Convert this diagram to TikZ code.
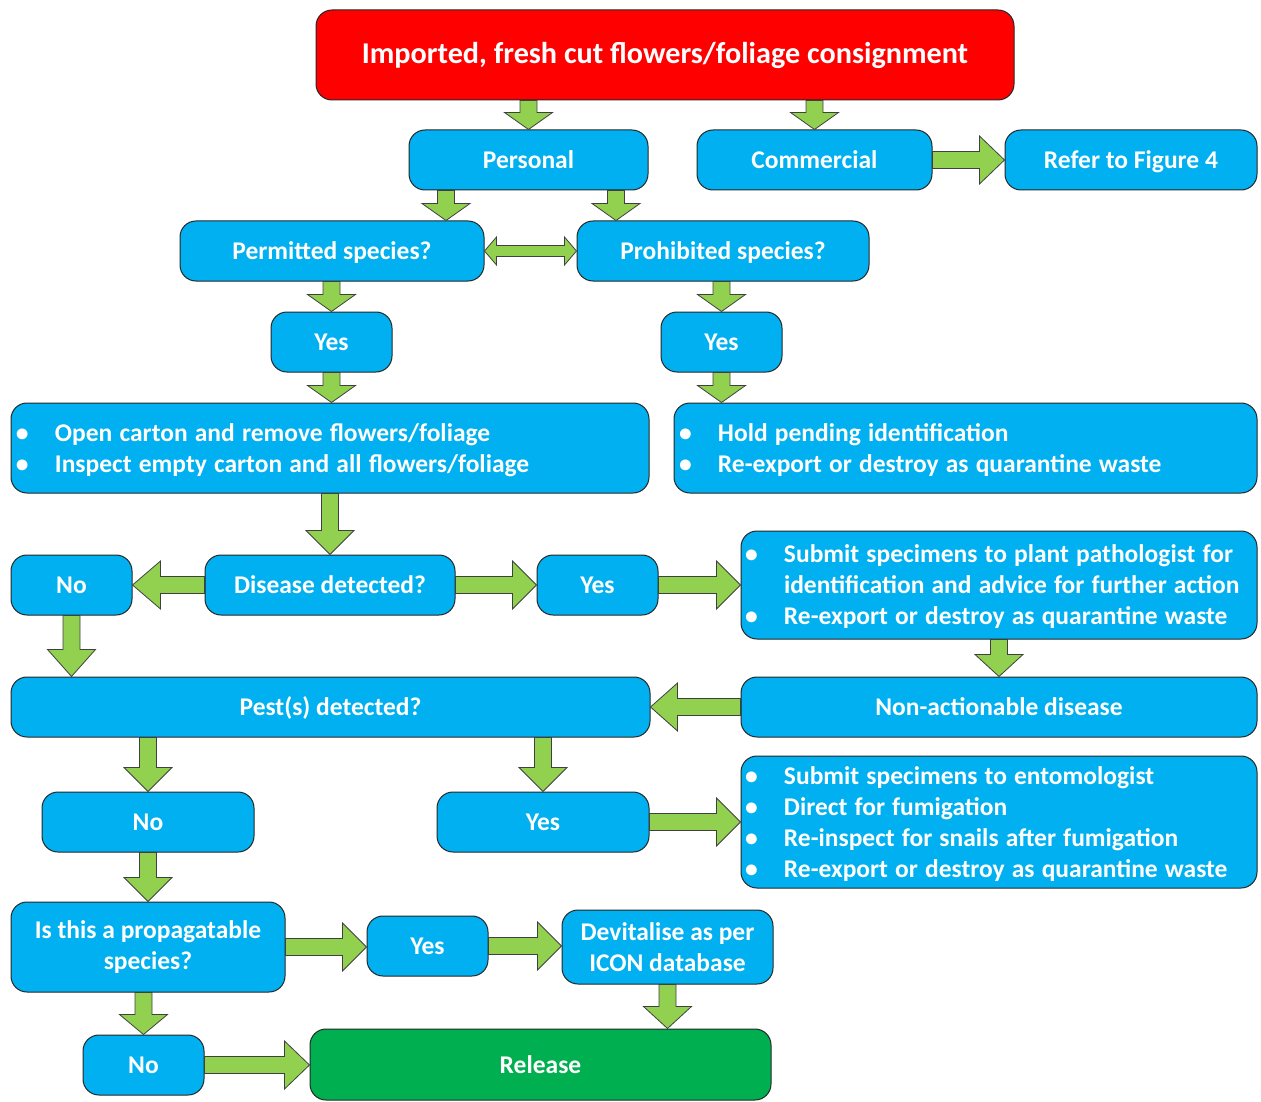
\documentclass[tikz,border=0pt]{standalone}
\usepackage{fontspec}
\setmainfont{Carlito}
\usepackage{tikz}
\usetikzlibrary{calc}

\definecolor{boxblue}{HTML}{00B0F0}
\definecolor{arrowgreen}{HTML}{92D050}
\definecolor{titlered}{HTML}{FF0000}
\definecolor{releasegreen}{HTML}{00B050}

% block arrow sizes
\def\ashaft{8.5pt}
\def\ahead{24pt}

% block arrow from #2 to #3, head length #1
\newcommand{\blockarrow}[3][24pt]{%
  \draw[barrow] let \p1=#2, \p2=#3,
    \n1={atan2(\y2-\y1,\x2-\x1)}, \n2={veclen(\x2-\x1,\y2-\y1)} in
    {[shift={(\p1)}, rotate=\n1]
    (0pt,-\ashaft) -- (\n2-#1,-\ashaft) -- (\n2-#1,-\ahead) -- (\n2,0pt)
    -- (\n2-#1,\ahead) -- (\n2-#1,\ashaft) -- (0pt,\ashaft) -- cycle};
}

% two-headed block arrow
\newcommand{\dblarrow}[3][12pt]{%
  \draw[barrow] let \p1=#2, \p2=#3,
    \n1={atan2(\y2-\y1,\x2-\x1)}, \n2={veclen(\x2-\x1,\y2-\y1)} in
    {[shift={(\p1)}, rotate=\n1]
    (0pt,0pt) -- (#1,14pt) -- (#1,5.5pt) -- (\n2-#1,5.5pt) -- (\n2-#1,14pt)
    -- (\n2,0pt) -- (\n2-#1,-14pt) -- (\n2-#1,-5.5pt) -- (#1,-5.5pt)
    -- (#1,-14pt) -- cycle};
}

% bullet line with hanging indent
\newcommand{\bitem}[1]{\hangindent=33pt\hangafter=1%
  \makebox[33pt][l]{\hspace{-6pt}\textbullet}#1\par}
\newcommand{\liststart}{\spaceskip=0.28em\relax}
\newcommand{\listend}{\par\kern-4pt}

\begin{document}
\begin{tikzpicture}[x=1pt, y=-1pt,
  flowbox/.style={draw=black!85, line width=1pt, fill=boxblue, rounded corners=16pt,
    text=white, font=\fontsize{25.5}{31}\selectfont\bfseries, align=center,
    inner sep=0pt, minimum height=60pt},
  onebox/.style={flowbox, text height=23pt, text depth=6pt},
  smallbox/.style={onebox, minimum width=121pt},
  listbox/.style={flowbox, align=left, execute at begin node=\liststart,
    execute at end node=\listend},
  barrow/.style={draw=black!75, line width=0.8pt, fill=arrowgreen}]
\useasboundingbox (0,0) rectangle (1261,1102);

\node[flowbox, fill=titlered, minimum width=698pt, minimum height=90pt,
  font=\fontsize{30.2}{36}\selectfont\bfseries] (top) at (665,55)
  {Imported, fresh cut flowers/foliage consignment};

\node[onebox, minimum width=239pt] (per) at (528.5,160) {Personal};
\node[onebox, minimum width=235pt] (com) at (814.5,160) {Commercial};
\node[onebox, minimum width=252pt] (ref) at (1131,160) {Refer to Figure 4};

\node[onebox, minimum width=304pt] (perm) at (332,251) {Permitted species?};
\node[onebox, minimum width=292pt] (proh) at (723,251) {Prohibited species?};

\node[smallbox] (yes1) at (331.5,342) {Yes};
\node[smallbox] (yes2) at (721.5,342) {Yes};

\node[listbox, minimum width=638pt, minimum height=90pt, text width=616pt] (open)
  at (330,448) {\bitem{Open carton and remove flowers/foliage}
  \bitem{Inspect empty carton and all flowers/foliage}};
\node[listbox, minimum width=583pt, minimum height=90pt, text width=561pt] (hold)
  at (965.5,448) {\bitem{Hold pending identification}
  \bitem{Re-export or destroy as quarantine waste}};

\node[smallbox] (no1) at (71.5,585) {No};
\node[onebox, minimum width=250pt] (dis) at (330,585) {Disease detected?};
\node[smallbox] (yes3) at (597.5,585) {Yes};
\node[listbox, minimum width=516pt, minimum height=108pt, text width=496pt] (patho)
  at (999,585) {\bitem{Submit specimens to plant pathologist for\newline
  identification and advice for further action}
  \bitem{Re-export or destroy as quarantine waste}};

\node[onebox, minimum width=639pt] (pest) at (330.5,707) {Pest(s) detected?};
\node[onebox, minimum width=516pt] (nonact) at (999,707) {Non-actionable disease};

\node[onebox, minimum width=212pt] (no2) at (148,822) {No};
\node[onebox, minimum width=212pt] (yes4) at (543,822) {Yes};
\node[listbox, minimum width=516pt, minimum height=132pt, text width=496pt] (ento)
  at (999,822) {\bitem{Submit specimens to entomologist}
  \bitem{Direct for fumigation}
  \bitem{Re-inspect for snails after fumigation}
  \bitem{Re-export or destroy as quarantine waste}};

\node[flowbox, minimum width=274pt, minimum height=90pt] (prop) at (148,947)
  {Is this a propagatable\\species?};
\node[smallbox] (yes5) at (427.5,946) {Yes};
\node[flowbox, minimum width=211pt, minimum height=74pt] (devit) at (667.5,947)
  {Devitalise as per\\ICON database};

\node[smallbox] (no3) at (143.5,1065) {No};
\node[onebox, fill=releasegreen, minimum width=461pt, minimum height=71pt] (rel)
  at (540.5,1064.5) {Release};

% arrows
\coordinate (pl) at ($(per.south)+(-82.5,0)$);
\coordinate (pr) at ($(per.south)+(87.5,0)$);

\blockarrow[17pt]{(per.north |- top.south)}{(per.north)}
\blockarrow[17pt]{(com.north |- top.south)}{(com.north)}
\blockarrow[25pt]{(com.east)}{(ref.west)}
\blockarrow[17pt]{(pl)}{(pl |- perm.north)}
\blockarrow[17pt]{(pr)}{(pr |- proh.north)}
\dblarrow{(perm.east)}{(proh.west)}
\blockarrow[17pt]{(yes1.north |- perm.south)}{(yes1.north)}
\blockarrow[17pt]{(yes1.south)}{(yes1.south |- open.north)}
\blockarrow[17pt]{(yes2.north |- proh.south)}{(yes2.north)}
\blockarrow[17pt]{(yes2.south)}{(yes2.south |- hold.north)}
\blockarrow{(open.south)}{(dis.north)}
\blockarrow[28pt]{(dis.west)}{(no1.east)}
\blockarrow{(dis.east)}{(yes3.west)}
\blockarrow{(yes3.east)}{(yes3.east -| patho.west)}
\blockarrow[22pt]{(patho.south)}{(nonact.north)}
\blockarrow[27pt]{(nonact.west)}{(nonact.west -| pest.east)}
\blockarrow[27pt]{(no1.south)}{(no1.south |- pest.north)}
\blockarrow{(no2.north |- pest.south)}{(no2.north)}
\blockarrow{(yes4.north |- pest.south)}{(yes4.north)}
\blockarrow{(yes4.east)}{(yes4.east -| ento.west)}
\blockarrow{(no2.south)}{(prop.north)}
\blockarrow{(prop.east)}{(prop.east -| yes5.west)}
\blockarrow{(yes5.east)}{(yes5.east -| devit.west)}
\blockarrow[22pt]{(devit.south)}{(devit.south |- rel.north)}
\blockarrow[20pt]{(no3.north |- prop.south)}{(no3.north)}
\blockarrow[25pt]{(no3.east)}{(no3.east -| rel.west)}
\end{tikzpicture}
\end{document}
